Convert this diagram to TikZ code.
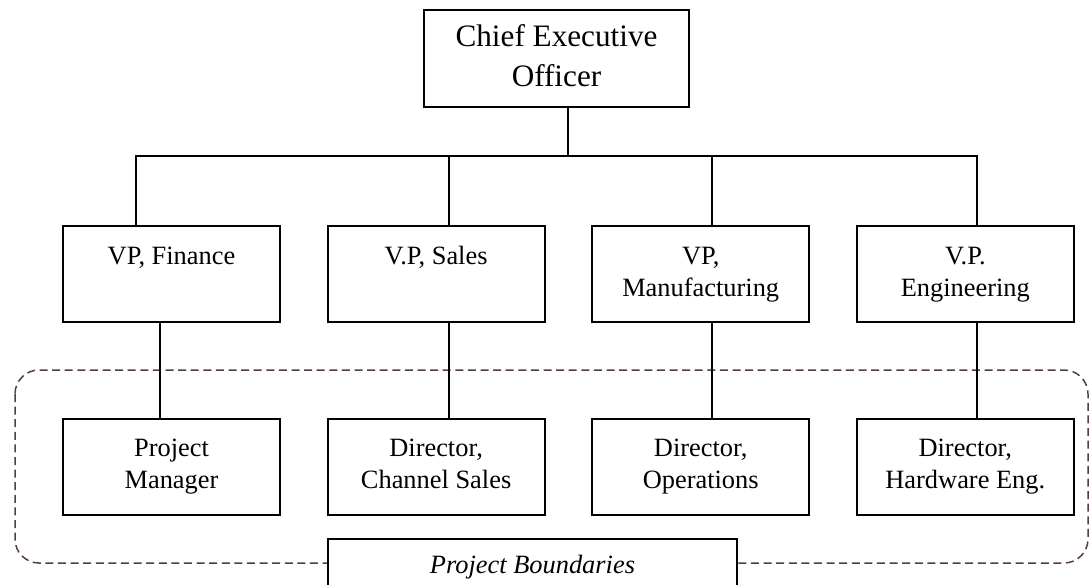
\documentclass[tikz,border=0pt]{standalone}
\usepackage{fontspec}
\setmainfont{Liberation Serif}
\usetikzlibrary{positioning}

\definecolor{dashgray}{RGB}{85,62,62}

\begin{document}
\begin{tikzpicture}[x=0.5pt,y=-0.5pt,line width=1pt,node distance=96.25pt and 132.3pt,on grid,
    post/.style={draw,minimum width=108.5pt,minimum height=48pt,align=center,
        text height=27.2pt,text depth=4.8pt,font=\fontsize{13.2}{16}\selectfont},
    boundary/.style={draw=dashgray,line width=0.75pt,dash pattern=on 4pt off 2.3pt,rounded corners=12pt}]
            \useasboundingbox (0,0) rectangle (1091,584);
            % outline round the project
            \draw[boundary] (15,370) rectangle (1088,563);
            \node[post,minimum width=132.5pt,minimum height=48.5pt,text height=34pt,text depth=6pt,
                font=\fontsize{15.6}{20}\selectfont] (ceo) at (556.5,58.5) {Chief Executive\\Officer};
            \node[post]        (fin) at (171.5,274)       {VP, Finance\\\mbox{}};
            \node[post]        (sal) [right =of fin]     {V.P, Sales\\\mbox{}};
            \node[post]        (man) [right =of sal]     {VP,\\Manufacturing};
            \node[post]        (eng) [right =of man]     {V.P.\\Engineering};
            \node[post]        (pm)  [below =of fin]     {Project\\Manager};
            \node[post]        (cs)  [below =of sal]     {Director,\\Channel Sales};
            \node[post]        (ops) [below =of man]     {Director,\\Operations};
            \node[post]        (hw)  [below =of eng]     {Director,\\Hardware Eng.};
            \node[draw,fill=white,anchor=north,minimum width=204.5pt,minimum height=28pt,
                font=\fontsize{13.2}{16}\itshape] (pb) at (532.5,538) {Project Boundaries};
            % tree lines
            \draw ([xshift=5.75pt]ceo.south) -- ++(0,48) coordinate (bar);
            \draw ([xshift=-17.75pt]fin.north) |- (bar) -| ([xshift=5.75pt]eng.north);
            \draw ([xshift=6.25pt]sal.north) -- ([xshift=6.25pt]sal.north |- bar);
            \draw ([xshift=5.75pt]man.north) -- ([xshift=5.75pt]man.north |- bar);
            \draw ([xshift=-5.75pt]fin.south) -- ([xshift=-5.75pt]pm.north);
            \draw ([xshift=6.25pt]sal.south) -- ([xshift=6.25pt]cs.north);
            \draw ([xshift=5.75pt]man.south) -- ([xshift=5.75pt]ops.north);
            \draw ([xshift=5.75pt]eng.south) -- ([xshift=5.75pt]hw.north);
        \end{tikzpicture}
\end{document}
